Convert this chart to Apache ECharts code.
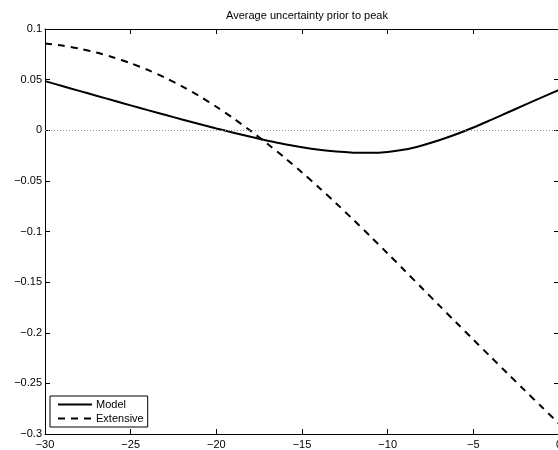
<!DOCTYPE html>
<html>
<head>
<meta charset="utf-8">
<script src="https://cdn.jsdelivr.net/npm/echarts@6/dist/echarts.min.js"></script>
<style>
  html, body { margin: 0; padding: 0; background: #fff; }
  #chart { width: 558px; height: 450px; }
</style>
</head>
<body>
<div id="chart"></div>
<script>
// Days before peak
const xs = [-30, -29, -28, -27, -26, -25, -24, -23, -22, -21, -20, -19, -18, -17, -16,
            -15, -14, -13, -12, -11, -10, -9, -8, -7, -6, -5, -4, -3, -2, -1, 0];

// Average uncertainty, model
const model = [0.0485, 0.0437, 0.0389, 0.0341, 0.0293, 0.0246, 0.0199, 0.0153, 0.0107, 0.0062,
               0.0018, -0.0024, -0.0065, -0.0103, -0.0138, -0.0168, -0.0193, -0.0211, -0.0221,
               -0.0223, -0.0214, -0.0191, -0.0150, -0.0099, -0.0040, 0.0027, 0.0100, 0.0175,
               0.0250, 0.0324, 0.0398];

// Average uncertainty, extensive
const extensive = [0.0857, 0.0836, 0.0806, 0.0767, 0.0719, 0.0662, 0.0596, 0.0520, 0.0434, 0.0338,
                   0.0232, 0.0117, -0.0006, -0.0136, -0.0273, -0.0417, -0.0567, -0.0723, -0.0884,
                   -0.1049, -0.1217, -0.1387, -0.1558, -0.1729, -0.1899, -0.2068, -0.2236, -0.2403,
                   -0.2569, -0.2734, -0.2898];

const pairs = (ys) => xs.map((x, i) => [x, ys[i]]);
const fmt = (v) => String(Math.round(v * 1000) / 1000).replace('-', '\u2212');

const FONT = 'Liberation Sans, Arial, Helvetica, sans-serif';

const boxAxis = {
  axisLine: { show: true, onZero: false, lineStyle: { color: '#000', width: 1 } },
  axisTick: { show: true, inside: true, length: 5, lineStyle: { color: '#000', width: 1 } },
  splitLine: { show: false }
};

const chart = echarts.init(document.getElementById('chart'), null, { renderer: 'canvas' });
chart.setOption({
  animation: false,
  backgroundColor: '#fff',
  title: {
    text: 'Average uncertainty prior to peak',
    left: 302, top: 5, textAlign: 'center',
    textStyle: { fontFamily: FONT, fontSize: 11, fontWeight: 'normal', color: '#000' }
  },
  grid: { left: 45, right: -1, top: 29, bottom: 16, outerBoundsMode: 'none', containLabel: false },
  legend: {
    orient: 'vertical',
    left: 50, top: 396,
    backgroundColor: '#fff',
    borderColor: '#000', borderWidth: 1,
    padding: [3, 4, 3, 7],
    itemGap: 3,
    itemWidth: 34, itemHeight: 12,
    itemStyle: { opacity: 0 },
    textStyle: { fontFamily: FONT, fontSize: 11, color: '#000', padding: [0, 0, 0, -1] },
    data: ['Model', 'Extensive']
  },
  xAxis: [
    Object.assign({
      type: 'value', position: 'bottom', min: -30, max: 0, interval: 5,
      axisLabel: { fontFamily: FONT, fontSize: 11, color: '#000', margin: 5, formatter: fmt }
    }, boxAxis),
    Object.assign({
      type: 'value', position: 'top', min: -30, max: 0, interval: 5,
      axisLabel: { show: false }
    }, boxAxis)
  ],
  yAxis: [
    Object.assign({
      type: 'value', position: 'left', min: -0.3, max: 0.1, interval: 0.05,
      axisLabel: { fontFamily: FONT, fontSize: 11, color: '#000', margin: 3, formatter: fmt }
    }, boxAxis),
    Object.assign({
      type: 'value', position: 'right', min: -0.3, max: 0.1, interval: 0.05,
      axisLabel: { show: false }
    }, boxAxis)
  ],
  series: [
    {
      name: 'Model', type: 'line', data: pairs(model),
      smooth: 0.3, showSymbol: false, symbol: 'none',
      lineStyle: { color: '#000', width: 2, type: 'solid' },
      itemStyle: { color: '#000' },
      markLine: {
        silent: true, symbol: 'none', label: { show: false },
        lineStyle: { color: '#999', width: 1, type: [1, 2] },
        data: [{ yAxis: 0 }]
      },
      z: 3
    },
    {
      name: 'Extensive', type: 'line', data: pairs(extensive),
      smooth: 0.3, showSymbol: false, symbol: 'none',
      lineStyle: { color: '#000', width: 2, type: [7, 6] },
      itemStyle: { color: '#000' },
      z: 3
    }
  ]
});
</script>
</body>
</html>
